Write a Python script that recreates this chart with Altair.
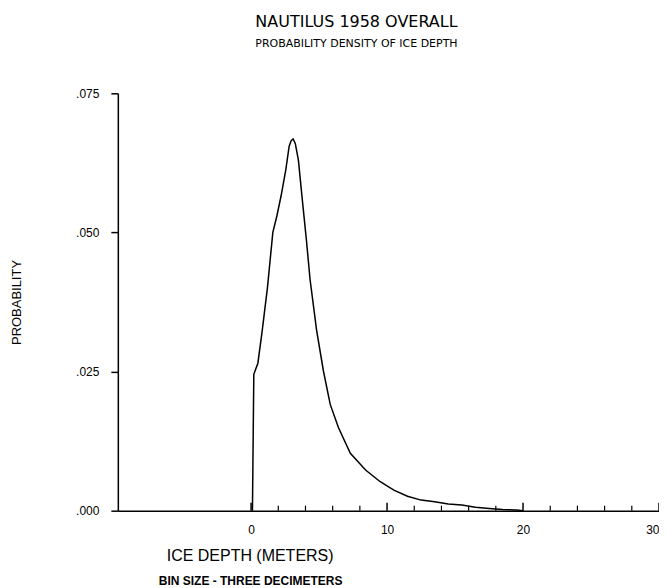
import altair as alt
import pandas as pd

# Curve (ice depth in m, probability)
depth = [0.1, 0.2, 0.5, 0.8, 1.0, 1.2, 1.4, 1.6, 1.9, 2.2, 2.55, 2.8, 2.95, 3.09, 3.25,
         3.48, 3.77, 4.07, 4.34, 4.82, 5.32, 5.82, 6.43, 7.3, 8.42, 9.5, 10.5, 11.5,
         12.5, 13.5, 14.5, 15.5, 16.5, 17.5, 18.5, 19.5, 20.0]
prob = [0.0, 0.0245, 0.0265, 0.032, 0.036, 0.040, 0.045, 0.050, 0.053, 0.0565, 0.0612,
        0.0655, 0.0665, 0.0668, 0.066, 0.063, 0.0558, 0.0486, 0.0415, 0.0324, 0.0251,
        0.0191, 0.0149, 0.0103, 0.0073, 0.0052, 0.0037, 0.0026, 0.0019, 0.0016, 0.0012,
        0.0010, 0.0006, 0.0004, 0.0002, 0.0001, 0.0]

x_labels = [0, 10, 20, 30]
major_ticks = [0, 10, 20, 30]
minor_ticks = [2, 4, 6, 8, 12, 14, 16, 18, 22, 24, 26, 28]
y_ticks = [0.0, 0.025, 0.05, 0.075]

W, H = 542, 418
x_dom = [-9.8, 30]
y_dom = [0, 0.075]

df = pd.DataFrame({"depth": depth, "prob": prob})
xs = alt.Scale(domain=x_dom, nice=False, zero=False)
ys = alt.Scale(domain=y_dom, nice=False)

line = alt.Chart(df).mark_line(color="black", strokeWidth=1.5).encode(
    x=alt.X("depth:Q", scale=xs,
            axis=alt.Axis(values=x_labels, ticks=False, grid=False, domainColor="black",
                          domainWidth=1.5, labelPadding=14, labelFontSize=12,
                          labelFont="Liberation Sans", labelColor="black",
                          title="ICE DEPTH (METERS)", titleFont="Liberation Sans",
                          titleFontSize=16, titleFontWeight="normal", titleColor="black",
                          titleX=132, titleY=50, titleAlign="center",
                          titleBaseline="alphabetic")),
    y=alt.Y("prob:Q", scale=ys,
            axis=alt.Axis(values=y_ticks, grid=False, tickSize=7, tickColor="black",
                          tickWidth=1.5, domainColor="black", domainWidth=1.5,
                          labelPadding=12, labelFontSize=12, labelFont="Liberation Sans",
                          labelColor="black",
                          labelExpr="substring(format(datum.value, '.3f'), 1)",
                          title="PROBABILITY", titleFont="Liberation Sans",
                          titleFontSize=13, titleFontWeight="normal", titleColor="black",
                          titleAngle=270, titleX=-101, titleY=209, titleAlign="center",
                          titleBaseline="middle")),
)

maj = alt.Chart(pd.DataFrame({"t": major_ticks})).mark_rule(color="black", strokeWidth=1.5).encode(
    x=alt.X("t:Q", scale=xs), y=alt.value(H), y2=alt.value(H - 8))
mnr = alt.Chart(pd.DataFrame({"t": minor_ticks})).mark_rule(color="black", strokeWidth=1.2).encode(
    x=alt.X("t:Q", scale=xs), y=alt.value(H), y2=alt.value(H - 5))

note = alt.Chart(pd.DataFrame({"s": ["BIN SIZE - THREE DECIMETERS"]})).mark_text(
    font="Liberation Sans", fontSize=12, fontWeight="bold", color="black", align="center",
    baseline="middle").encode(text="s:N", x=alt.value(133), y=alt.value(488))

chart = alt.layer(line, maj, mnr, note).properties(
    width=W, height=H,
    background="white",
    title=alt.TitleParams(
        text="NAUTILUS 1958 OVERALL",
        subtitle="PROBABILITY DENSITY OF ICE DEPTH",
        font="DejaVu Sans", fontSize=16, fontWeight="normal", color="black",
        subtitleFont="DejaVu Sans", subtitleFontSize=11, subtitleColor="black",
        subtitlePadding=8, anchor="middle", frame="group", dx=-32, offset=38),
    padding={"left": 110, "top": 85, "right": 0, "bottom": 77},
    autosize=alt.AutoSizeParams(type="none"),
).configure_view(stroke="transparent", strokeWidth=0).configure_axis(grid=False)

chart.save("out.html", embed_options={"renderer": "svg", "actions": False})
